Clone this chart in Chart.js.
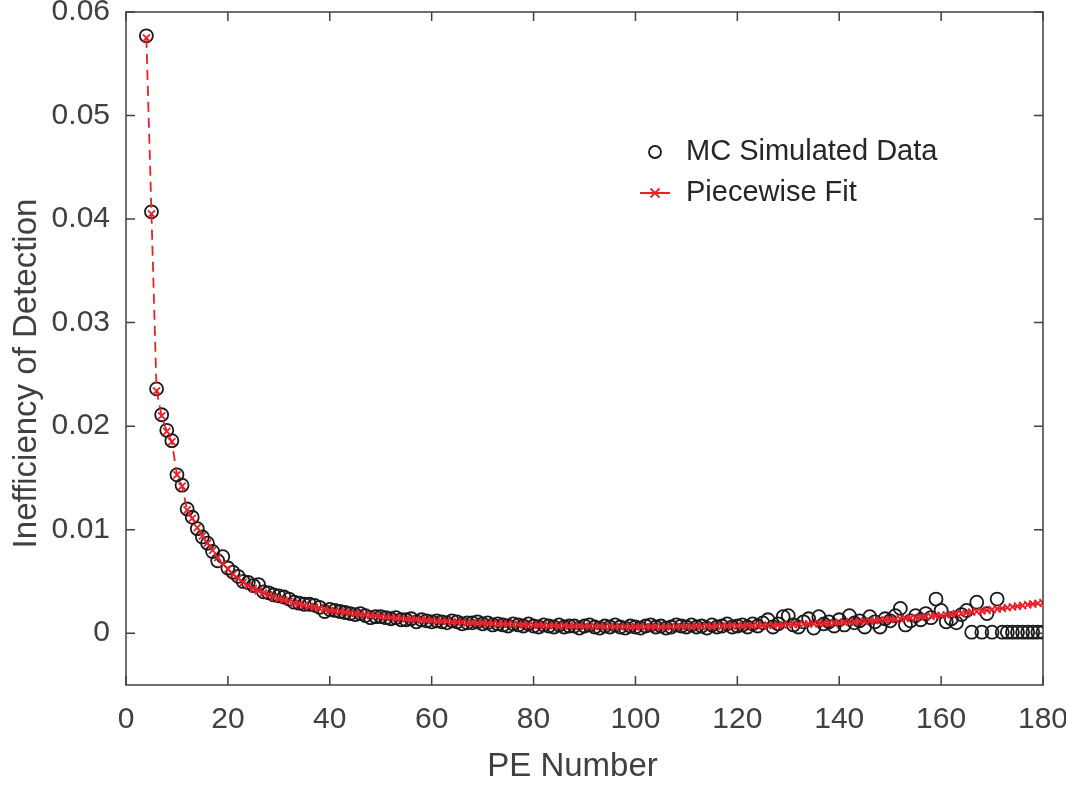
<!DOCTYPE html>
<html>
<head>
<meta charset="utf-8">
<script src="https://cdn.jsdelivr.net/npm/chart.js@4"></script>
<style>
  html, body { margin: 0; padding: 0; background: #fff; }
  #wrap { width: 1066px; height: 786px; }
</style>
</head>
<body>
<div id="wrap"><canvas id="peChart" width="1066" height="786"></canvas></div>
<script>
// PE number (x values)
const peNumber = [
  4, 5, 6, 7, 8, 9, 10, 11, 12, 13, 14, 15, 16, 17, 18, 19, 20,
  21, 22, 23, 24, 25, 26, 27, 28, 29, 30, 31, 32, 33, 34, 35, 36, 37, 38, 39, 40,
  41, 42, 43, 44, 45, 46, 47, 48, 49, 50, 51, 52, 53, 54, 55, 56, 57, 58, 59, 60,
  61, 62, 63, 64, 65, 66, 67, 68, 69, 70, 71, 72, 73, 74, 75, 76, 77, 78, 79, 80,
  81, 82, 83, 84, 85, 86, 87, 88, 89, 90, 91, 92, 93, 94, 95, 96, 97, 98, 99, 100,
  101, 102, 103, 104, 105, 106, 107, 108, 109, 110, 111, 112, 113, 114, 115, 116, 117, 118, 119, 120,
  121, 122, 123, 124, 125, 126, 127, 128, 129, 130, 131, 132, 133, 134, 135, 136, 137, 138, 139, 140,
  141, 142, 143, 144, 145, 146, 147, 148, 149, 150, 151, 152, 153, 154, 155, 156, 157, 158, 159, 160,
  161, 162, 163, 164, 165, 166, 167, 168, 169, 170, 171, 172, 173, 174, 175, 176, 177, 178, 179, 180
];

// MC simulated data (circles)
const mcSimulated = [
  0.0577, 0.0407, 0.0236, 0.0211, 0.0196, 0.0186, 0.0153, 0.0143, 0.0120, 0.0112, 0.0101, 0.0093, 0.0087, 0.0079, 0.0070, 0.0074, 0.0063,
  0.0059, 0.0055, 0.0050, 0.0049, 0.0046, 0.0047, 0.0040, 0.0039, 0.0037, 0.0036, 0.0035, 0.0033, 0.0030, 0.0029, 0.0028, 0.0028, 0.0027, 0.0025, 0.0021, 0.0023,
  0.0022, 0.0021, 0.0020, 0.0019, 0.0018, 0.0019, 0.0017, 0.0015, 0.0016, 0.0016, 0.0015, 0.0014, 0.0015, 0.0013, 0.0013, 0.0014, 0.0011, 0.0013, 0.0012, 0.0011,
  0.0012, 0.0011, 0.0010, 0.0012, 0.0011, 0.0009, 0.0010, 0.0010, 0.0011, 0.0009, 0.0010, 0.0008, 0.0009, 0.0008, 0.0007, 0.0009, 0.0008, 0.0007, 0.0009, 0.0007,
  0.0006, 0.0008, 0.0007, 0.0006, 0.0008, 0.0006, 0.0007, 0.0007, 0.0005, 0.0007, 0.0008, 0.0006, 0.0005, 0.0007, 0.0006, 0.0008, 0.0006, 0.0005, 0.0007, 0.0006,
  0.0005, 0.0007, 0.0008, 0.0006, 0.0007, 0.0005, 0.0006, 0.0008, 0.0007, 0.0006, 0.0008, 0.0006, 0.0007, 0.0005, 0.0008, 0.0006, 0.0007, 0.0009, 0.0006, 0.0007,
  0.0008, 0.0006, 0.0009, 0.0007, 0.0010, 0.0013, 0.0006, 0.0009, 0.0016, 0.0017, 0.0008, 0.0006, 0.0011, 0.0014, 0.0005, 0.0016, 0.0009, 0.0011, 0.0007, 0.0013,
  0.0008, 0.0017, 0.0010, 0.0012, 0.0006, 0.0016, 0.0011, 0.0006, 0.0014, 0.0012, 0.0017, 0.0024, 0.0008, 0.0012, 0.0017, 0.0013, 0.0019, 0.0015, 0.0033, 0.0022,
  0.0011, 0.0014, 0.0010, 0.0018, 0.0022, 0.0001, 0.0030, 0.0001, 0.0019, 0.0001, 0.0033, 0.0001, 0.0001, 0.0001, 0.0001, 0.0001, 0.0001, 0.0001, 0.0001, 0.0001
];

// piecewise fit (red x, dashed)
const piecewiseFit = [
  0.0575, 0.0405, 0.0234, 0.0210, 0.0195, 0.0185, 0.0153, 0.0142, 0.0119, 0.0111, 0.0102, 0.0094, 0.0087, 0.0080, 0.0073, 0.0067, 0.0062,
  0.0057, 0.0053, 0.0049, 0.0046, 0.0043, 0.0041, 0.0039, 0.0037, 0.0035, 0.0033, 0.0032, 0.0031, 0.0029, 0.0028, 0.0027, 0.0026, 0.0025, 0.0024, 0.0023, 0.0022,
  0.00215, 0.0021, 0.00203, 0.00196, 0.0019, 0.00184, 0.00178, 0.00172, 0.00167, 0.00162, 0.00157, 0.00152, 0.00148, 0.00144, 0.0014, 0.00136, 0.00132, 0.00129, 0.00126, 0.00123,
  0.0012, 0.00117, 0.00114, 0.00111, 0.00108, 0.00106, 0.00103, 0.00101, 0.00099, 0.00097, 0.00095, 0.00093, 0.00091, 0.00089, 0.00087, 0.00085, 0.00083, 0.00081, 0.0008, 0.00078,
  0.00077, 0.00075, 0.00074, 0.00073, 0.00072, 0.00071, 0.0007, 0.00069, 0.00068, 0.00067, 0.00066, 0.00066, 0.00065, 0.00065, 0.00064, 0.00064, 0.00064, 0.00063, 0.00063, 0.00063,
  0.00063, 0.00063, 0.00063, 0.00063, 0.00063, 0.00063, 0.00064, 0.00064, 0.00064, 0.00065, 0.00065, 0.00066, 0.00066, 0.00067, 0.00067, 0.00068, 0.00069, 0.0007, 0.0007, 0.00071,
  0.00072, 0.00073, 0.00074, 0.00075, 0.00076, 0.00077, 0.00078, 0.0008, 0.00081, 0.00083, 0.00084, 0.00086, 0.00088, 0.0009, 0.00092, 0.00094, 0.00096, 0.00098, 0.001, 0.00103,
  0.00105, 0.00108, 0.0011, 0.00113, 0.00116, 0.00119, 0.00122, 0.00125, 0.00128, 0.00132, 0.00135, 0.00139, 0.00143, 0.00147, 0.00151, 0.00155, 0.00159, 0.00164, 0.00168, 0.00173,
  0.00178, 0.00183, 0.00188, 0.00193, 0.00198, 0.00204, 0.0021, 0.00216, 0.00222, 0.00228, 0.00234, 0.0024, 0.00247, 0.00254, 0.00261, 0.00268, 0.00275, 0.00282, 0.00289, 0.00296
];

// tick labels
const xTicks = [0, 20, 40, 60, 80, 100, 120, 140, 160, 180];
const yTicks = [0, 0.01, 0.02, 0.03, 0.04, 0.05, 0.06];
const xTitle = 'PE Number';
const yTitle = 'Inefficiency of Detection';

const FONT = "'Liberation Sans', Arial, Helvetica, sans-serif";
const AXIS_COLOR = '#404040';
const RED = '#e8202a';

// caja con marcas hacia dentro (estilo MATLAB) + titulos de ejes
const boxTicks = {
  id: 'boxTicks',
  afterDraw(chart) {
    const { ctx, chartArea: a, scales } = chart;
    const len = 9;
    ctx.save();
    ctx.strokeStyle = AXIS_COLOR;
    ctx.lineWidth = 1.5;
    ctx.strokeRect(a.left, a.top, a.right - a.left, a.bottom - a.top);
    ctx.beginPath();
    xTicks.forEach(v => {
      const x = scales.x.getPixelForValue(v);
      ctx.moveTo(x, a.bottom); ctx.lineTo(x, a.bottom - len);
      ctx.moveTo(x, a.top); ctx.lineTo(x, a.top + len);
    });
    yTicks.forEach(v => {
      const y = scales.y.getPixelForValue(v);
      ctx.moveTo(a.left, y); ctx.lineTo(a.left + len, y);
      ctx.moveTo(a.right, y); ctx.lineTo(a.right - len, y);
    });
    ctx.stroke();

    // titulos
    ctx.fillStyle = AXIS_COLOR;
    ctx.font = '33px ' + FONT;
    ctx.textAlign = 'center';
    ctx.textBaseline = 'middle';
    ctx.fillText(xTitle, (a.left + a.right) / 2 - 12, a.bottom + 82);
    ctx.translate(27, (a.top + a.bottom) / 2 + 25);
    ctx.rotate(-Math.PI / 2);
    ctx.fillText(yTitle, 0, 0);
    ctx.restore();
  }
};

// leyenda dentro del area del grafico
const innerLegend = {
  id: 'innerLegend',
  afterDraw(chart) {
    const { ctx, chartArea: a } = chart;
    const mx = a.left + 529;
    const tx = a.left + 560;
    const y1 = a.top + 140;
    const y2 = a.top + 181;
    ctx.save();
    ctx.font = '29px ' + FONT;
    ctx.fillStyle = '#262626';
    ctx.textBaseline = 'middle';
    ctx.textAlign = 'left';

    ctx.strokeStyle = '#1a1a1a';
    ctx.lineWidth = 1.8;
    ctx.beginPath();
    ctx.arc(mx, y1, 6, 0, Math.PI * 2);
    ctx.stroke();
    ctx.fillText('MC Simulated Data', tx, y1);

    ctx.strokeStyle = RED;
    ctx.lineWidth = 1.8;
    ctx.beginPath();
    ctx.moveTo(mx - 15, y2); ctx.lineTo(mx + 15, y2);
    ctx.moveTo(mx - 4.5, y2 - 4.5); ctx.lineTo(mx + 4.5, y2 + 4.5);
    ctx.moveTo(mx - 4.5, y2 + 4.5); ctx.lineTo(mx + 4.5, y2 - 4.5);
    ctx.stroke();
    ctx.fillText('Piecewise Fit', tx, y2);
    ctx.restore();
  }
};

const ctx = document.getElementById('peChart').getContext('2d');

new Chart(ctx, {
  type: 'scatter',
  data: {
    datasets: [
      {
        label: 'Piecewise Fit',
        data: peNumber.map((x, i) => ({ x: x, y: piecewiseFit[i] })),
        showLine: true,
        borderColor: RED,
        borderWidth: 1.8,
        borderDash: [10, 6],
        pointStyle: 'crossRot',
        pointRadius: 5,
        pointBorderWidth: 1.8,
        pointBorderColor: RED,
        pointBackgroundColor: RED
      },
      {
        label: 'MC Simulated Data',
        data: peNumber.map((x, i) => ({ x: x, y: mcSimulated[i] })),
        showLine: false,
        pointStyle: 'circle',
        pointRadius: 6.5,
        pointBorderWidth: 1.8,
        pointBorderColor: '#1a1a1a',
        pointBackgroundColor: 'rgba(0,0,0,0)'
      }
    ]
  },
  options: {
    responsive: false,
    animation: false,
    layout: { padding: { top: 12, right: 23, left: 0, bottom: 0 } },
    plugins: {
      legend: { display: false },
      tooltip: { enabled: false },
      title: { display: false }
    },
    scales: {
      x: {
        type: 'linear',
        min: 0,
        max: 180,
        grid: { display: false, drawTicks: false },
        border: { display: false },
        afterBuildTicks: s => { s.ticks = xTicks.map(v => ({ value: v })); },
        afterFit: s => { s.height = 101; s.paddingLeft = 0; s.paddingRight = 0; },
        ticks: {
          padding: 17,
          maxRotation: 0,
          color: AXIS_COLOR,
          font: { family: FONT, size: 30 },
          callback: v => String(v)
        },
        title: { display: false }
      },
      y: {
        type: 'linear',
        min: -0.005,
        max: 0.06,
        grid: { display: false, drawTicks: false },
        border: { display: false },
        afterBuildTicks: s => { s.ticks = yTicks.map(v => ({ value: v })); },
        afterFit: s => { s.width = 126; s.paddingTop = 0; s.paddingBottom = 0; },
        ticks: {
          padding: 16,
          color: AXIS_COLOR,
          font: { family: FONT, size: 30 },
          callback: v => (v === 0 ? '0' : v.toFixed(2))
        },
        title: { display: false }
      }
    }
  },
  plugins: [boxTicks, innerLegend]
});
</script>
</body>
</html>
